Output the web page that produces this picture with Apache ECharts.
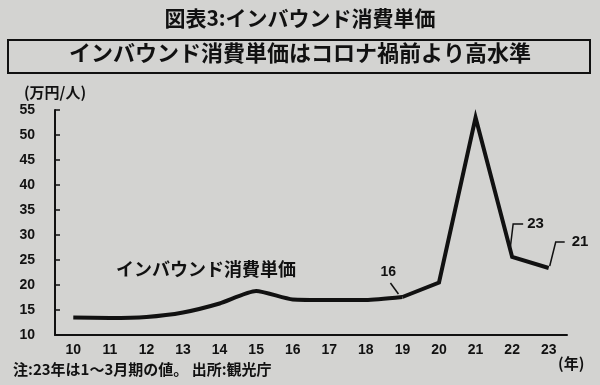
<!DOCTYPE html>
<html><head><meta charset="utf-8">
<script src="https://cdn.jsdelivr.net/npm/echarts@6/dist/echarts.min.js"></script>
<style>html,body{margin:0;padding:0;background:#d3d3d1;}#c{width:600px;height:385px;}</style>
</head><body><div id="c"></div>
<script>
var categories = ['10','11','12','13','14','15','16','17','18','19','20','21','22','23'];
var values = [13.5, 13.4, 13.6, 14.5, 16.3, 18.8, 17.1, 17.0, 17.0, 17.6, 20.5, 53.5, 25.6, 23.4];
var yTicks = {min: 10, max: 55, interval: 5};
var title = '図表3:インバウンド消費単価';
var subtitle = 'インバウンド消費単価はコロナ禍前より高水準';
var seriesName = 'インバウンド消費単価';
var note = '注:23年は1～3月期の値。 出所:観光庁';
var annot = [{cat: '19', text: '16'}, {cat: '22', text: '23'}, {cat: '23', text: '21'}];

var FONT = '"Liberation Sans", "Noto Sans CJK JP", sans-serif';
var JFONT = '"Noto Sans CJK JP", sans-serif';
var splitIdx = 9;
var smoothPart = values.map(function(v,i){return i<=splitIdx? v : null;});
var straightPart = values.map(function(v,i){return i>=splitIdx? v : null;});

var chart = echarts.init(document.getElementById('c'));
chart.setOption({
  backgroundColor: '#d3d3d1',
  animation: false,
  grid: {left: 55, right: 33, top: 110, bottom: 50},
  xAxis: [{
    type: 'category', data: categories, boundaryGap: true,
    axisLine: {lineStyle: {color: '#111', width: 2}},
    axisTick: {inside: false, length: 4, lineStyle: {color: '#111', width: 1.5}},
    axisLabel: {color: '#111', fontWeight: 'bold', fontSize: 14, fontFamily: FONT, margin: 8}
  },{
    type: 'category', data: categories, boundaryGap: true, position: 'bottom',
    axisLine: {show: false},
    axisTick: {inside: true, length: 4, lineStyle: {color: '#111', width: 1.5}},
    axisLabel: {show: false}
  }],
  yAxis: {
    type: 'value', min: yTicks.min, max: yTicks.max, interval: yTicks.interval,
    axisLine: {show: true, lineStyle: {color: '#111', width: 2}},
    axisTick: {show: true, inside: true, length: 5, lineStyle: {color: '#111', width: 1.5}},
    splitLine: {show: false},
    axisLabel: {color: '#111', fontWeight: 'bold', fontSize: 14, fontFamily: FONT, margin: 20},
    name: '(万円/人)', nameLocation: 'end', nameGap: 10,
    nameTextStyle: {color: '#111', fontWeight: 'bold', fontSize: 15, fontFamily: JFONT, align: 'center', padding: [0, 0, 0, 0]}
  },
  series: [{
    type: 'line', data: smoothPart, smooth: 0.2, showSymbol: false,
    lineStyle: {color: '#111', width: 4}, connectNulls: false
  },{
    type: 'line', data: straightPart, smooth: false, showSymbol: false,
    lineStyle: {color: '#111', width: 4, join: 'miter'}
  }],
  graphic: []
});

function px(cat, v){ return chart.convertToPixel({xAxisIndex:0, yAxisIndex:0}, [cat, v]); }
var g = [];
g.push({type:'text', left:'center', top: 8, style:{text: title, font: 'bold 21px ' + JFONT, fill:'#111'}});
g.push({type:'rect', shape:{x:8, y:40, width:582, height:33}, style:{fill:'none', stroke:'#111', lineWidth:2}});
g.push({type:'text', left:'center', top: 42, style:{text: subtitle, font: 'bold 22px ' + JFONT, fill:'#111'}});
g.push({type:'text', x: 116, y: 260, style:{text: seriesName, font: 'bold 18px ' + JFONT, fill:'#111'}});
g.push({type:'text', x: 13, y: 362, style:{text: note, font: 'bold 15px ' + JFONT, fill:'#111'}});
g.push({type:'text', x: 558, y: 356, style:{text: '(年)', font: 'bold 15px ' + JFONT, fill:'#111'}});
// annotations
var a0 = px(annot[0].cat, values[9]);
g.push({type:'line', shape:{x1:a0[0]-4, y1:a0[1]-3, x2:a0[0]-12, y2:a0[1]-14}, style:{stroke:'#111', lineWidth:1.5}});
g.push({type:'text', x:a0[0]-22, y:a0[1]-32, style:{text: annot[0].text, font:'bold 14px ' + FONT, fill:'#111'}});
var a1 = px(annot[1].cat, values[12]);
g.push({type:'polyline', shape:{points:[[a1[0]-2, a1[1]-8],[a1[0]+1, a1[1]-33],[a1[0]+11, a1[1]-33]]}, style:{stroke:'#111', lineWidth:1.5, fill:null}});
g.push({type:'text', x:a1[0]+15, y:a1[1]-41, style:{text: annot[1].text, font:'bold 15px ' + FONT, fill:'#111'}});
var a2 = px(annot[2].cat, values[13]);
g.push({type:'polyline', shape:{points:[[a2[0]+1, a2[1]-2],[a2[0]+7, a2[1]-26],[a2[0]+16, a2[1]-26]]}, style:{stroke:'#111', lineWidth:1.5, fill:null}});
g.push({type:'text', x:a2[0]+23, y:a2[1]-34, style:{text: annot[2].text, font:'bold 15px ' + FONT, fill:'#111'}});
chart.setOption({graphic: g});
</script></body></html>
